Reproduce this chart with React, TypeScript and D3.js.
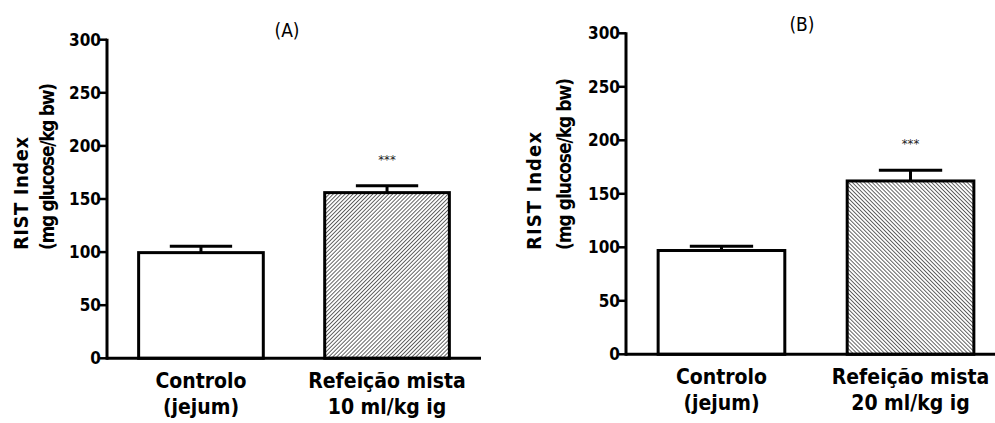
import React from 'react';
import * as d3 from 'd3';

// categories (two text lines each)
const catsA = [['Controlo', '(jejum)'], ['Refeição mista', '10 ml/kg ig']];
const catsB = [['Controlo', '(jejum)'], ['Refeição mista', '20 ml/kg ig']];

// mean values and SEM (upper error bar only)
const meansA = [99.5, 156];
const semA = [6, 6.5];
const meansB = [97, 162];
const semB = [4, 10];

const yTicks = [0, 50, 100, 150, 200, 250, 300];
const starsA = ['', '***'];
const starsB = ['', '***'];

const FONT = "'DejaVu Sans Condensed', 'DejaVu Sans', sans-serif";

type PanelProps = {
  title: string;
  titleX: number;
  titleY: number;
  cats: string[][];
  means: number[];
  sem: number[];
  stars: string[];
  x0: number;
  x1: number;
  yTop: number;
  yBase: number;
  hatch: string;
  lab1X: number;
  lab2X: number;
  lab1Len: number;
  lab2Len: number;
  labBottom: number;
};

const Panel = (p: PanelProps) => {
  const keys = p.cats.map((c) => c.join(' '));
  const x = d3.scaleBand<string>().domain(keys).range([p.x0, p.x1]).paddingInner(0.33).paddingOuter(0.17);
  const y = d3.scaleLinear().domain([0, 300]).range([p.yBase, p.yTop]);
  const bw = x.bandwidth();

  return (
    <g>
      <text x={p.titleX} y={p.titleY} textAnchor="middle" fontFamily={FONT} fontSize={19} fill="#000">
        {p.title}
      </text>

      {/* y label */}
      <text
        transform={`translate(${p.lab1X},${p.labBottom}) rotate(-90)`}
        fontFamily={FONT}
        fontWeight="bold"
        fontSize={20}
        textLength={p.lab1Len}
        lengthAdjust="spacing"
      >
        RIST Index
      </text>
      <text
        transform={`translate(${p.lab2X},${p.labBottom}) rotate(-90)`}
        fontFamily={FONT}
        fontWeight="bold"
        fontSize={19}
        textLength={p.lab2Len}
        lengthAdjust="spacing"
      >
        (mg glucose/kg bw)
      </text>

      {/* bars */}
      {keys.map((k, i) => {
        const bx = x(k)!;
        const cx = bx + bw / 2;
        const top = y(p.means[i]);
        const errTop = y(p.means[i] + p.sem[i]);
        return (
          <g key={k}>
            <line x1={cx} x2={cx} y1={top} y2={errTop} stroke="#000" strokeWidth={3} />
            <line x1={cx - bw / 4} x2={cx + bw / 4} y1={errTop} y2={errTop} stroke="#000" strokeWidth={3} />
            <rect
              x={bx}
              y={top}
              width={bw}
              height={p.yBase - top}
              fill={i === 0 ? '#fff' : `url(#${p.hatch})`}
              stroke="#000"
              strokeWidth={3}
            />
            {p.stars[i] && (
              <text x={cx} y={errTop - 22} textAnchor="middle" fontFamily={FONT} fontSize={13} fill="#222">
                {p.stars[i]}
              </text>
            )}
            {p.cats[i].map((line, j) => (
              <text
                key={j}
                x={cx}
                y={p.yBase + 30 + j * 26}
                textAnchor="middle"
                fontFamily={FONT}
                fontWeight="bold"
                fontSize={21}
                fill="#000"
              >
                {line}
              </text>
            ))}
          </g>
        );
      })}

      {/* axes */}
      <line x1={p.x0} x2={p.x1} y1={p.yBase} y2={p.yBase} stroke="#000" strokeWidth={3} />
      <line x1={p.x0} x2={p.x0} y1={p.yTop - 1} y2={p.yBase + 1.5} stroke="#000" strokeWidth={3} />
      {yTicks.map((t) => (
        <g key={t}>
          <line x1={p.x0 - 7} x2={p.x0} y1={y(t)} y2={y(t)} stroke="#000" strokeWidth={2.5} />
          <text
            x={p.x0 - 6}
            y={y(t)}
            dy="0.36em"
            textAnchor="end"
            fontFamily={FONT}
            fontWeight="bold"
            fontSize={17}
            fill="#000"
          >
            {t}
          </text>
        </g>
      ))}
    </g>
  );
};

const App = () => {
  return (
    <svg
      width={995}
      height={423}
      style={{ position: 'absolute', left: 0, top: 0, background: '#fff' }}
    >
      <defs>
        {/* "/" hatching for panel A, "\" for panel B */}
        <pattern id="hatchA" width={2.8} height={2.8} patternUnits="userSpaceOnUse" patternTransform="rotate(45)">
          <rect width={2.8} height={2.8} fill="#fff" />
          <line x1={0} y1={0} x2={0} y2={2.8} stroke="#333" strokeWidth={1.5} />
        </pattern>
        <pattern id="hatchB" width={2.8} height={2.8} patternUnits="userSpaceOnUse" patternTransform="rotate(-45)">
          <rect width={2.8} height={2.8} fill="#fff" />
          <line x1={0} y1={0} x2={0} y2={2.8} stroke="#333" strokeWidth={1.5} />
        </pattern>
      </defs>
      <Panel
        title="(A)"
        titleX={287}
        titleY={37}
        cats={catsA}
        means={meansA}
        sem={semA}
        stars={starsA}
        x0={107}
        x1={481}
        yTop={39.7}
        yBase={358.3}
        hatch="hatchA"
        lab1X={28}
        lab2X={54}
        lab1Len={113}
        lab2Len={167}
        labBottom={250}
      />
      <Panel
        title="(B)"
        titleX={802}
        titleY={31}
        cats={catsB}
        means={meansB}
        sem={semB}
        stars={starsB}
        x0={626}
        x1={1006}
        yTop={33.3}
        yBase={354.3}
        hatch="hatchB"
        lab1X={541}
        lab2X={571}
        lab1Len={118}
        lab2Len={172}
        labBottom={250}
      />
    </svg>
  );
};

export default App;
